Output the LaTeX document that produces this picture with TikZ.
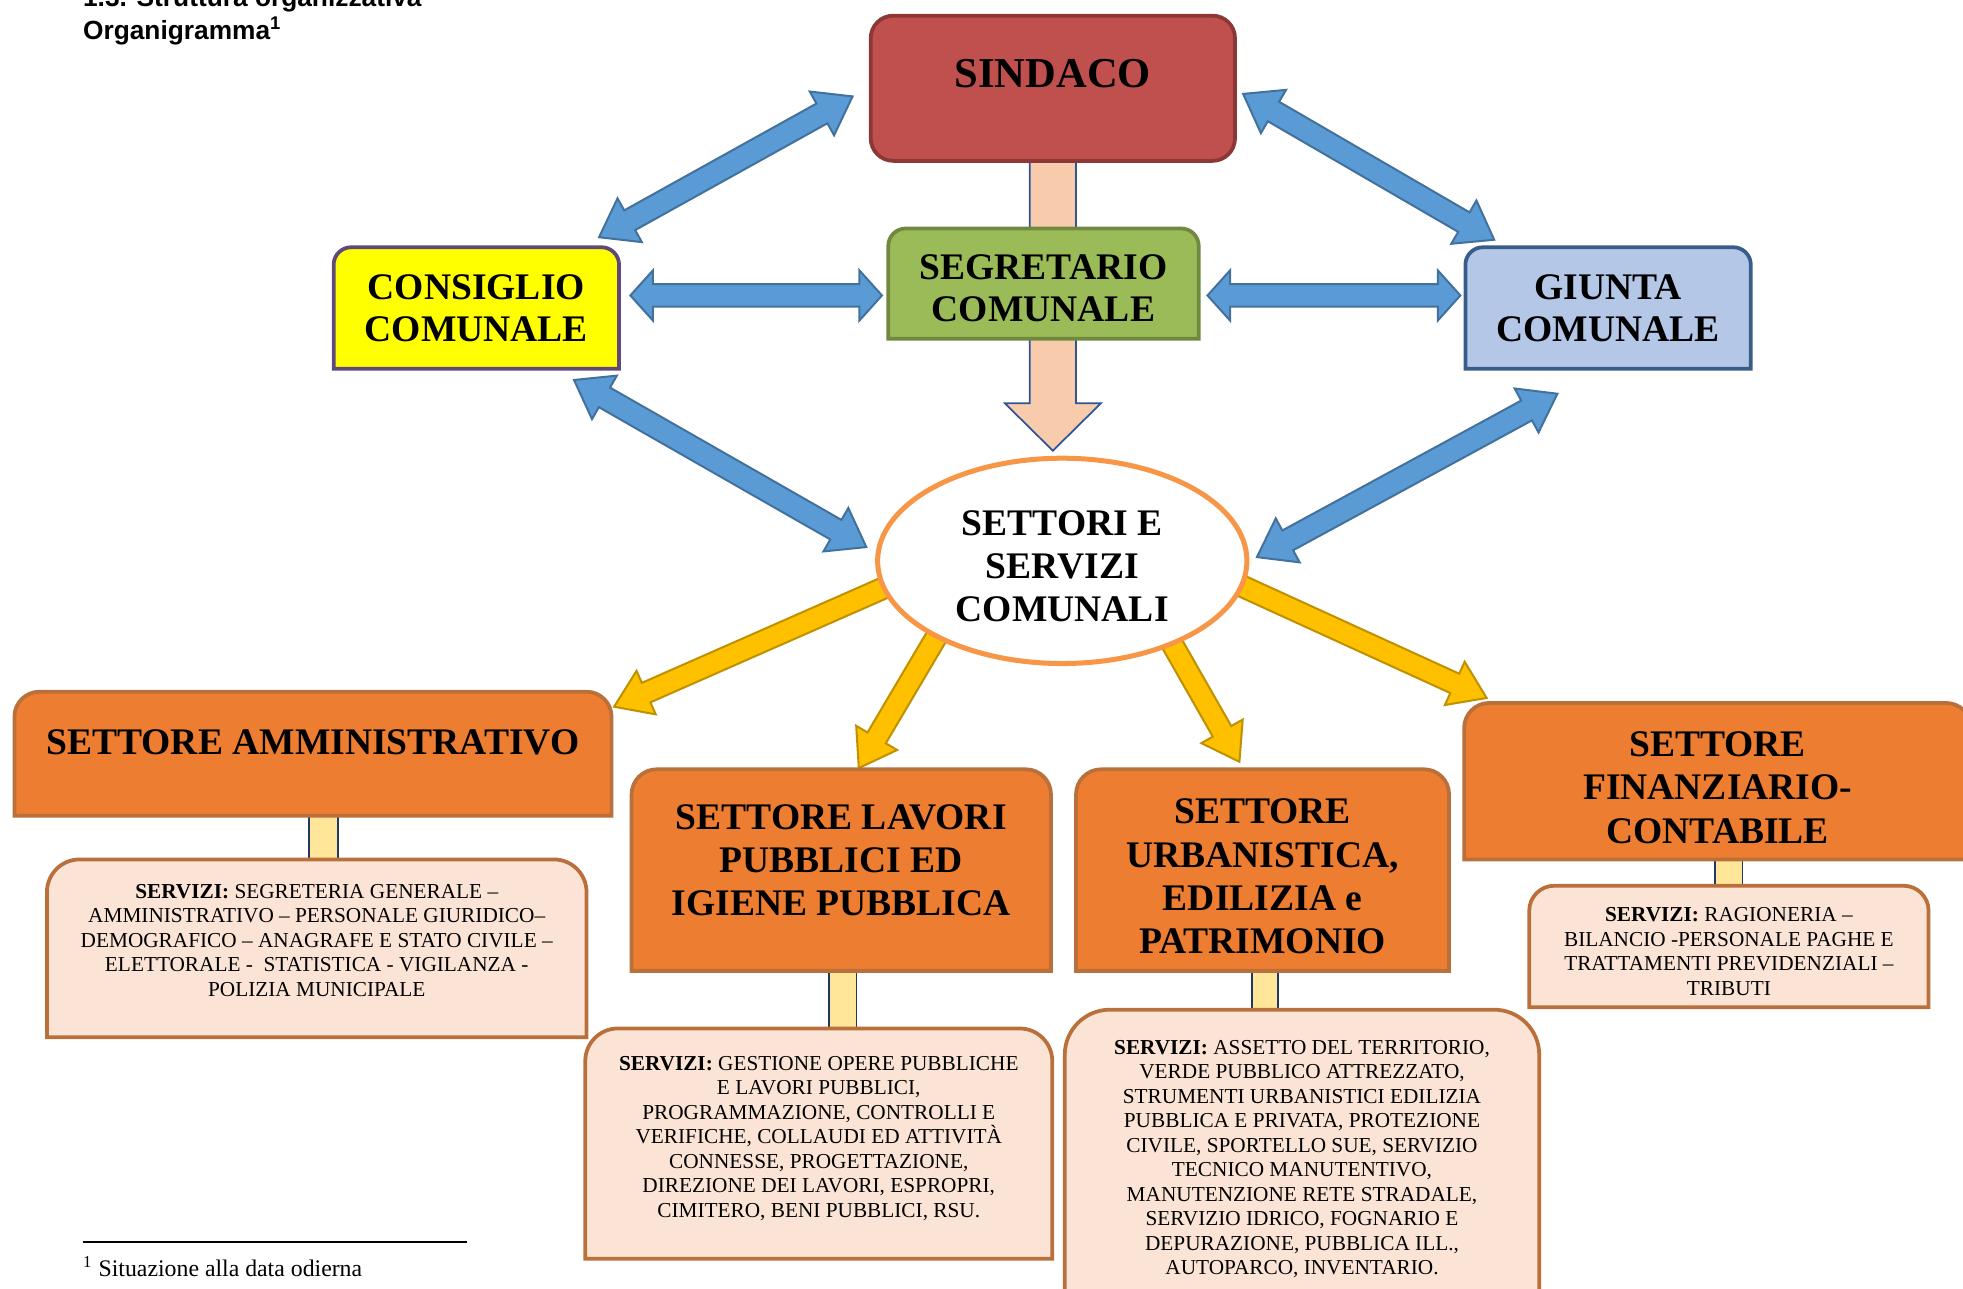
\documentclass[tikz,border=0pt]{standalone}
\usepackage{fontspec}
\setmainfont{Liberation Serif}
\newfontfamily\titlefont{Liberation Sans}
\usepackage{tikz}
\usetikzlibrary{shapes.geometric, calc, backgrounds}

\definecolor{sindacofill}{HTML}{C0504D}
\definecolor{sindacoline}{HTML}{8C3836}
\definecolor{segrfill}{HTML}{9BBB59}
\definecolor{segrline}{HTML}{71893F}
\definecolor{consfill}{HTML}{FFFF00}
\definecolor{consline}{HTML}{5F497A}
\definecolor{giuntafill}{HTML}{B4C7E7}
\definecolor{giuntaline}{HTML}{385D8A}
\definecolor{nucleoline}{HTML}{F79646}
\definecolor{settfill}{HTML}{ED7D31}
\definecolor{settline}{HTML}{B9703A}
\definecolor{servfill}{HTML}{FBE4D5}
\definecolor{bluefill}{HTML}{5B9BD5}
\definecolor{blueline}{HTML}{41719C}
\definecolor{goldfill}{HTML}{FFC000}
\definecolor{goldline}{HTML}{BF9000}
\definecolor{peachfill}{HTML}{F8CBAD}
\definecolor{peachline}{HTML}{2F5597}
\definecolor{stemfill}{HTML}{FFE699}
\definecolor{stemline}{HTML}{203864}

% box with rounded top corners and square bottom: node, radius, line, fill
\newcommand{\tabbox}[4]{%
  \filldraw[line width=1.5pt, draw=#3, fill=#4]
    (#1.south west) -- ([yshift=-#2]#1.north west)
    arc[start angle=180, end angle=90, radius=#2]
    -- ([xshift=-#2]#1.north east)
    arc[start angle=90, end angle=0, radius=#2]
    -- (#1.south east) -- cycle;}

% block arrow with two heads: [head length]{from}{to}
\newcommand{\twoway}[3][14pt]{%
  \filldraw[bluearrow] (#2)
    -- ($(#2)!#1!(#3)!10pt!90:(#3)$) -- ($(#2)!#1!(#3)!4.5pt!90:(#3)$)
    -- ($(#3)!#1!(#2)!4.5pt!-90:(#2)$) -- ($(#3)!#1!(#2)!10pt!-90:(#2)$)
    -- (#3)
    -- ($(#3)!#1!(#2)!10pt!90:(#2)$) -- ($(#3)!#1!(#2)!4.5pt!90:(#2)$)
    -- ($(#2)!#1!(#3)!4.5pt!-90:(#3)$) -- ($(#2)!#1!(#3)!10pt!-90:(#3)$)
    -- cycle;}

% block arrow with one head: style, half shaft, half head, head length, tail, tip
\newcommand{\oneway}[6]{%
  \filldraw[#1] ($(#5)!#2!90:(#6)$)
    -- ($(#6)!#4!(#5)!#2!-90:(#5)$) -- ($(#6)!#4!(#5)!#3!-90:(#5)$)
    -- (#6)
    -- ($(#6)!#4!(#5)!#3!90:(#5)$) -- ($(#6)!#4!(#5)!#2!90:(#5)$)
    -- ($(#5)!#2!-90:(#6)$) -- cycle;}

\begin{document}
\begin{tikzpicture}[x=0.5pt, y=-0.5pt,
    titolo/.style={anchor=base west, inner sep=0pt, font=\titlefont\bfseries\fontsize{10.5}{12.5}\selectfont},
    capo/.style={draw=sindacoline, fill=sindacofill, line width=1.5pt, rounded corners=9pt,
        minimum width=145.5pt, minimum height=58pt, inner sep=0pt,
        font=\bfseries\fontsize{17}{20}\selectfont},
    organo/.style={inner sep=0pt, outer sep=0pt, align=center,
        font=\bfseries\fontsize{15}{16.75}\selectfont},
    nucleo/.style={ellipse, draw=nucleoline, fill=white, line width=2pt,
        minimum width=147.5pt, minimum height=82pt, inner sep=0pt, align=center,
        font=\bfseries\fontsize{15}{17.25}\selectfont},
    settore/.style={inner sep=0pt, outer sep=0pt, align=center,
        font=\bfseries\fontsize{15}{17.3}\selectfont},
    servizi/.style={inner sep=0pt, outer sep=0pt, align=center,
        font=\fontsize{8.5}{9.8}\selectfont},
    bluearrow/.style={fill=bluefill, draw=blueline, line width=0.8pt},
    goldarrow/.style={fill=goldfill, draw=goldline, line width=0.8pt},
    peacharrow/.style={fill=peachfill, draw=peachline, line width=0.7pt},
    stem/.style={fill=stemfill, draw=stemline, line width=0.6pt}
]
\useasboundingbox (0,0) rectangle (1568,1029);

\node[titolo] (titolo) at (66,5.5) {1.3. Struttura organizzativa};
\node[titolo] (organigramma) at (66,31.5) {Organigramma\textsuperscript{1}};

\node[capo, text depth=11.5pt] (sindaco) at (841,70.5) {SINDACO};
\node[organo, minimum width=124pt, minimum height=44pt] (segretario) at (833.5,226.5) {\rule{0pt}{14pt}SEGRETARIO\\COMUNALE};
\node[organo, minimum width=114pt, minimum height=48.5pt] (consiglio) at (380.5,246) {CONSIGLIO\\COMUNALE};
\node[organo, minimum width=114pt, minimum height=48.5pt] (giunta) at (1284.5,246) {GIUNTA\\COMUNALE};
\node[nucleo] (settori) at (848.5,448) {\rule{0pt}{14pt}SETTORI E\\SERVIZI\\COMUNALI};

\node[settore, minimum width=238.5pt, minimum height=49.5pt, text depth=9pt] (amm) at (250,602) {SETTORE AMMINISTRATIVO};
\node[settore, minimum width=167.5pt, minimum height=80.5pt, text depth=8pt] (lavori) at (672,695) {SETTORE LAVORI\\PUBBLICI ED\\IGIENE PUBBLICA};
\node[settore, minimum width=149pt, minimum height=80.5pt] (urbanistica) at (1008.5,695) {\rule{0pt}{15pt}SETTORE\\URBANISTICA,\\EDILIZIA e\\PATRIMONIO};
\node[settore, minimum width=202.5pt, minimum height=62.5pt] (finanziario) at (1372,624) {\rule{0pt}{15pt}SETTORE\\FINANZIARIO-\\CONTABILE};

\node[servizi, minimum width=215.5pt, minimum height=71pt, text depth=6.5pt] (servamm) at (253,757.5)
    {\textbf{SERVIZI:} SEGRETERIA GENERALE –\\AMMINISTRATIVO – PERSONALE GIURIDICO–\\DEMOGRAFICO – ANAGRAFE E STATO CIVILE –\\ELETTORALE -\ \ STATISTICA - VIGILANZA -\\POLIZIA MUNICIPALE};
\node[servizi, minimum width=186.5pt, minimum height=92pt, text depth=5.5pt] (servlav) at (654,913.5)
    {\textbf{SERVIZI:} GESTIONE OPERE PUBBLICHE\\E LAVORI PUBBLICI,\\PROGRAMMAZIONE, CONTROLLI E\\VERIFICHE, COLLAUDI ED ATTIVITÀ\\CONNESSE, PROGETTAZIONE,\\DIREZIONE DEI LAVORI, ESPROPRI,\\CIMITERO, BENI PUBBLICI, RSU.};
\node[servizi, minimum width=189.5pt, minimum height=121pt, text depth=3pt] (servurb) at (1040,927.5)
    {\textbf{SERVIZI:} ASSETTO DEL TERRITORIO,\\VERDE PUBBLICO ATTREZZATO,\\STRUMENTI URBANISTICI EDILIZIA\\PUBBLICA E PRIVATA, PROTEZIONE\\CIVILE, SPORTELLO SUE, SERVIZIO\\TECNICO MANUTENTIVO,\\MANUTENZIONE RETE STRADALE,\\SERVIZIO IDRICO, FOGNARIO E\\DEPURAZIONE, PUBBLICA ILL.,\\AUTOPARCO, INVENTARIO.};
\node[servizi, minimum width=159.5pt, minimum height=48.5pt] (servfin) at (1381,756)
    {\rule{0pt}{9.7pt}\textbf{SERVIZI:} RAGIONERIA –\\BILANCIO -PERSONALE PAGHE E\\TRATTAMENTI PREVIDENZIALI –\\TRIBUTI};

% ends of the block arrows
\coordinate (ptail) at ($(sindaco.center)+(0,20)$);
\coordinate (ptip) at ($(sindaco.south |- settori.north)+(0,-4)$);
\coordinate (gt1) at ($(settori.center)+(-107,6)$);
\coordinate (gh1) at ($(amm.north east)+(2,12)$);
\coordinate (gt2) at ($(settori.center)+(-80,26)$);
\coordinate (gh2) at ($(lavori.north)+(14,-1)$);
\coordinate (gt3) at ($(settori.center)+(66.5,29)$);
\coordinate (gh3) at ($(urbanistica.north)+(-18.5,-6)$);
\coordinate (gt4) at ($(settori.center)+(107,3.5)$);
\coordinate (gh4) at ($(finanziario.north west)+(18,-4)$);
\coordinate (bs1) at ($(sindaco.west)+(-13,6.5)$);
\coordinate (bc1) at ($(consiglio.north east)+(-16,-8)$);
\coordinate (bs2) at ($(sindaco.east)+(5,4.5)$);
\coordinate (bg1) at ($(giunta.north west)+(23,-6)$);
\coordinate (bc2) at ($(consiglio.east)+(9,-10)$);
\coordinate (bsg1) at ($(segretario.west)+(-5,9.5)$);
\coordinate (bsg2) at ($(segretario.east)+(7,9.5)$);
\coordinate (bg2) at ($(giunta.west)+(-4,-10)$);
\coordinate (bc3) at ($(consiglio.south east)+(-36,9)$);
\coordinate (bn1) at ($(settori.west)+(-7,-11)$);
\coordinate (bg3) at ($(giunta.south)+(-40.5,20)$);
\coordinate (bn2) at ($(settori.east)+(6,-3)$);

\begin{scope}[on background layer]
    \oneway{peacharrow}{9.25pt}{19.25pt}{19pt}{ptail}{ptip}
    \oneway{goldarrow}{4.25pt}{9.5pt}{14pt}{gt1}{gh1}
    \oneway{goldarrow}{4.25pt}{9.5pt}{14pt}{gt2}{gh2}
    \oneway{goldarrow}{4.25pt}{9.5pt}{14pt}{gt3}{gh3}
    \oneway{goldarrow}{4.25pt}{9.5pt}{14pt}{gt4}{gh4}

    \filldraw[stem] ($(amm.south)+(-3,0)$) rectangle ($(servamm.north)+(17,0)$);
    \filldraw[stem] ($(lavori.south)+(-10,0)$) rectangle ($(servlav.north)+(30,0)$);
    \filldraw[stem] ($(urbanistica.south)+(-8.5,0)$) rectangle ($(servurb.north)+(-19,0)$);
    \filldraw[stem] ($(finanziario.south)+(-2,0)$) rectangle ($(servfin.north)+(11,0)$);

    \tabbox{segretario}{7pt}{segrline}{segrfill}
    \tabbox{consiglio}{7pt}{consline}{consfill}
    \tabbox{giunta}{7pt}{giuntaline}{giuntafill}
    \tabbox{amm}{10pt}{settline}{settfill}
    \tabbox{lavori}{10pt}{settline}{settfill}
    \tabbox{urbanistica}{10pt}{settline}{settfill}
    \tabbox{finanziario}{10pt}{settline}{settfill}
    \tabbox{servamm}{13pt}{settline}{servfill}
    \tabbox{servlav}{13pt}{settline}{servfill}
    \tabbox{servurb}{18pt}{settline}{servfill}
    \tabbox{servfin}{10pt}{settline}{servfill}
\end{scope}

\twoway{bs1}{bc1}
\twoway{bs2}{bg1}
\twoway[9pt]{bc2}{bsg1}
\twoway[9pt]{bsg2}{bg2}
\twoway{bc3}{bn1}
\twoway{bg3}{bn2}

\draw[line width=0.7pt] (66,992) -- (373,992);
\node[anchor=base west, inner sep=0pt, font=\fontsize{9.5}{11}\selectfont] (nota) at (66,1020)
    {\textsuperscript{1} Situazione alla data odierna};
\end{tikzpicture}
\end{document}
